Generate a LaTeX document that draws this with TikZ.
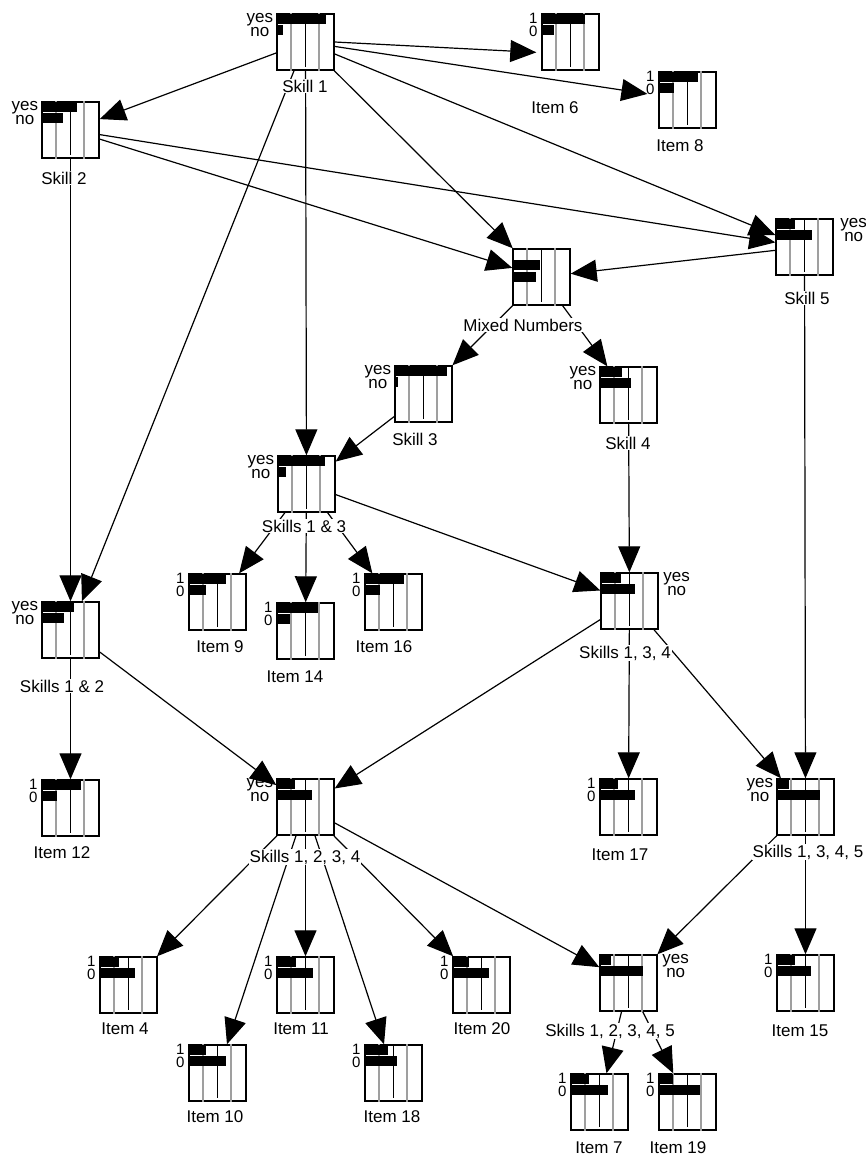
\documentclass[tikz,border=0pt]{standalone}
\usepackage{fontspec}
\setmainfont{Liberation Sans}
\usetikzlibrary{calc, arrows.meta}

% one probability box: name, x, y, upper bar, lower bar
\newcommand{\cpt}[5]{%
  \node[box] (#1) at (#2,#3) {};
  \draw[gline] ($(#1.north west)+(14.5,0)$) -- ($(#1.south west)+(14.5,0)$);
  \draw[gline] ($(#1.north west)+(43,0)$) -- ($(#1.south west)+(43,0)$);
  \draw[mline] (#1.north) -- ($(#1.south)+(0,-4)$);
  \fill ($(#1.north west)+(0,0.5)$) rectangle ++(#4*57,10);
  \fill ($(#1.north west)+(0,12)$) rectangle ++(#5*57,10);
}
% state names beside a box: name, corner, shift
\newcommand{\yesno}[3]{%
  \node[state] (#1u) at ($(#1.north #2)+(#3,9)$) {yes};
  \node[state] (#1l) at ($(#1.north #2)+(#3,23)$) {no};
}
\newcommand{\onezero}[1]{%
  \node[state, font=\fontsize{15}{15}\selectfont] (#1u) at ($(#1.north west)+(-8,10.5)$) {1};
  \node[state, font=\fontsize{15}{15}\selectfont] (#1l) at ($(#1.north west)+(-8,23.5)$) {0};
}

\begin{document}
\begin{tikzpicture}[
    x=1pt, y=-1pt,
    box/.style={draw, line width=1.4pt, fill=white, minimum width=57pt,
                minimum height=56pt, inner sep=0pt},
    gline/.style={gray!75, line width=2pt},
    mline/.style={line width=1.2pt},
    arrow/.style={-{Triangle[length=26pt, width=22pt]}, line width=1.2pt},
    lbl/.style={fill=white, inner sep=1pt, font=\fontsize{17}{17}\selectfont},
    state/.style={anchor=base, inner sep=0pt, font=\fontsize{17}{17}\selectfont},
]
\useasboundingbox (0,0) rectangle (866,1157);

% skills
\cpt{s1}{305.5}{42}{0.87}{0.12}
\cpt{s2}{70.5}{130}{0.62}{0.38}
\cpt{s5}{804.5}{247}{0.35}{0.65}
\cpt{mix}{541.5}{277}{0}{0.48}
\fill ($(mix.north west)+(0,24)$) rectangle ++(0.41*57,10);
\cpt{s3}{423.5}{394}{0.92}{0.06}
\cpt{s4}{628.5}{395}{0.39}{0.55}
\cpt{s13}{306.5}{484}{0.84}{0.16}
\cpt{s134}{629.5}{601}{0.37}{0.60}
\cpt{s12}{70.5}{630}{0.57}{0.40}
\cpt{s1234}{305.5}{807}{0.33}{0.63}
\cpt{s1345}{805.5}{807}{0.23}{0.77}
\cpt{s12345}{628.5}{983}{0.20}{0.77}

% items
\cpt{i6}{570.5}{42}{0.76}{0.22}
\cpt{i8}{687.5}{100}{0.69}{0.27}
\cpt{i9}{217.5}{602}{0.66}{0.31}
\cpt{i14}{305.5}{631}{0.73}{0.24}
\cpt{i16}{393.5}{602}{0.70}{0.28}
\cpt{i12}{70.5}{808}{0.70}{0.28}
\cpt{i17}{628.5}{807}{0.32}{0.63}
\cpt{i4}{128.5}{985}{0.35}{0.63}
\cpt{i11}{305.5}{985}{0.34}{0.64}
\cpt{i20}{481.5}{985}{0.30}{0.65}
\cpt{i15}{805.5}{983}{0.33}{0.60}
\cpt{i10}{217.5}{1073}{0.31}{0.66}
\cpt{i18}{393.5}{1073}{0.42}{0.57}
\cpt{i7}{599.5}{1102}{0.33}{0.67}
\cpt{i19}{687.5}{1102}{0.25}{0.73}

% links
\draw[arrow] (s1) -- (s2);
\draw[arrow, shorten >=5pt] (s1.east) -- (i6.200);
\draw[arrow, shorten >=11pt] (s1) -- (i8);
\draw[arrow] (s1) -- (s12);
\draw[arrow] (s1) -- (s13);
\draw[arrow] (s1) -- (mix);
\draw[arrow] (s1) -- (s5);
\draw[arrow] (s2) -- (mix);
\draw[arrow] (s2) -- (s5);
\draw[arrow] (s2) -- (s12);
\draw[arrow] (s5) -- (mix);
\draw[arrow] (s5) -- (s1345);
\draw[arrow] (mix) -- (s3);
\draw[arrow] (mix) -- (s4);
\draw[arrow] (s3) -- (s13);
\draw[arrow] (s4) -- (s134);
\draw[arrow] (s13) -- (i9);
\draw[arrow] (s13) -- (i14);
\draw[arrow] (s13) -- (i16);
\draw[arrow] (s13) -- (s134);
\draw[arrow] (s12) -- (i12);
\draw[arrow] (s12) -- (s1234);
\draw[arrow] (s134) -- (s1234);
\draw[arrow] (s134) -- (i17);
\draw[arrow] (s134) -- (s1345);
\draw[arrow] (s1234) -- (i4);
\draw[arrow] (s1234) -- (i10);
\draw[arrow] (s1234) -- (i11);
\draw[arrow] (s1234) -- (i18);
\draw[arrow] (s1234) -- (i20);
\draw[arrow] (s1234) -- (s12345);
\draw[arrow] (s1345) -- (s12345);
\draw[arrow] (s1345) -- (i15);
\draw[arrow] (s12345) -- (i7);
\draw[arrow] (s12345) -- (i19);

% names under the boxes
\node[lbl] (s1t) at (305,86) {Skill 1};
\node[lbl] (s2t) at (64,178) {Skill 2};
\node[lbl] (s5t) at (807,298) {Skill 5};
\node[lbl] (mixt) at (523,325) {Mixed Numbers};
\node[lbl] (s3t) at (415,439) {Skill 3};
\node[lbl] (s4t) at (628,443) {Skill 4};
\node[lbl] (s13t) at (304,526) {Skills 1 \& 3};
\node[lbl] (s134t) at (625,653) {Skills 1, 3, 4};
\node[lbl] (s12t) at (62,686) {Skills 1 \& 2};
\node[lbl] (s1234t) at (305,857) {Skills 1, 2, 3, 4};
\node[lbl] (s1345t) at (808,852) {Skills 1, 3, 4, 5};
\node[lbl] (s12345t) at (610,1031) {Skills 1, 2, 3, 4, 5};
\node[lbl] (i6t) at (555,108) {Item 6};
\node[lbl] (i8t) at (680,146) {Item 8};
\node[lbl] (i9t) at (220,647) {Item 9};
\node[lbl] (i14t) at (295,677) {Item 14};
\node[lbl] (i16t) at (384,647) {Item 16};
\node[lbl] (i12t) at (62,853) {Item 12};
\node[lbl] (i17t) at (620,855) {Item 17};
\node[lbl] (i4t) at (125,1029) {Item 4};
\node[lbl] (i11t) at (301,1029) {Item 11};
\node[lbl] (i20t) at (482,1029) {Item 20};
\node[lbl] (i15t) at (800,1031) {Item 15};
\node[lbl] (i10t) at (215,1117) {Item 10};
\node[lbl] (i18t) at (392,1117) {Item 18};
\node[lbl] (i7t) at (599,1148) {Item 7};
\node[lbl] (i19t) at (678,1148) {Item 19};

% states
\yesno{s1}{west}{-16.5}
\yesno{s2}{west}{-16.5}
\yesno{s3}{west}{-16.5}
\yesno{s4}{west}{-16.5}
\yesno{s13}{west}{-16.5}
\yesno{s12}{west}{-16.5}
\yesno{s1234}{west}{-16.5}
\yesno{s1345}{west}{-16.5}
\yesno{s5}{east}{20}
\yesno{s134}{east}{18}
\yesno{s12345}{east}{18}
\onezero{i6}
\onezero{i8}
\onezero{i9}
\onezero{i14}
\onezero{i16}
\onezero{i12}
\onezero{i17}
\onezero{i4}
\onezero{i11}
\onezero{i20}
\onezero{i15}
\onezero{i10}
\onezero{i18}
\onezero{i7}
\onezero{i19}
\end{tikzpicture}
\end{document}
